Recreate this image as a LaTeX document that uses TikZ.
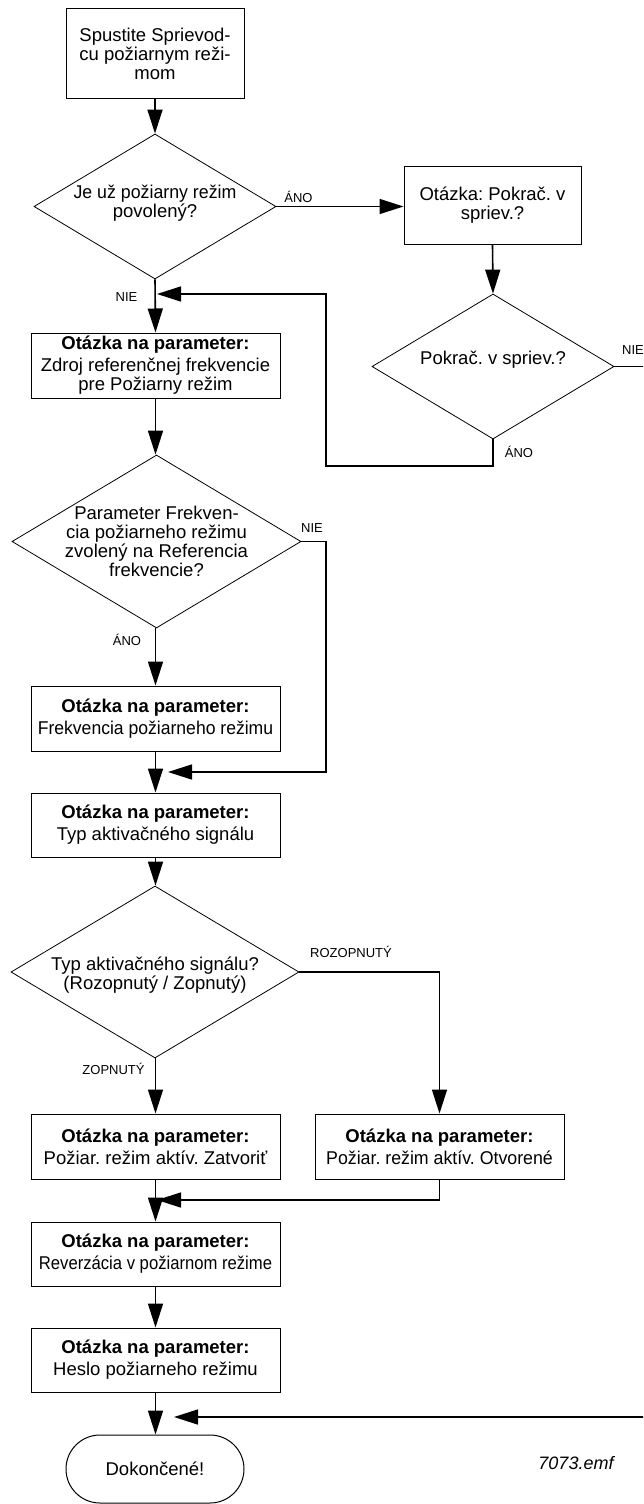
\documentclass[tikz,border=0pt]{standalone}
\usepackage{fontspec}
\usepackage{graphicx}
\setmainfont{Liberation Sans}
\usetikzlibrary{arrows.meta,shapes.geometric,calc}
\frenchspacing

\tikzset{
  base/.style={font=\fontsize{18.5}{19}\selectfont, align=center},
  proc/.style={base, draw, line width=1pt, inner sep=0pt,
    minimum width=249pt, minimum height=65pt},
  decision/.style={draw, line width=0.8pt, shape=diamond, inner sep=0pt,
    minimum width=242pt, minimum height=145pt},
  dtext/.style={base},
  term/.style={base, draw, line width=1pt, rounded corners=34pt,
    minimum width=178pt, minimum height=68pt, inner sep=0pt},
  lbl/.style={font=\fontsize{13}{15}\selectfont, inner sep=0pt},
  flow/.style={line width=1.6pt, -{Triangle[length=24pt,width=15pt]}},
}
\newcommand{\qhead}{\textbf{Otázka na parameter:}\\[3pt]}
% squeeze a line horizontally so it fits its box
\newcommand{\narrow}[2]{\scalebox{#1}[1]{#2}}

\begin{document}
\frenchspacing
\begin{tikzpicture}[x=1pt,y=-1pt]
\useasboundingbox (0,0) rectangle (643,1504);
\clip (0,0) rectangle (643,1504);

% main column
\node[base, draw, line width=1pt, minimum width=178pt, minimum height=89pt, inner sep=0pt]
  (start) at (155,53.5) {Spustite Sprievod-\\cu požiarnym reži-\\mom};
\node[decision] (d1) at (155,206.5) {};
\node[dtext] (d1t) at (155,203) {\narrow{0.96}{Je už požiarny režim}\\povolený?};

\node[base, draw, line width=1pt, minimum width=177pt, minimum height=78pt, inner sep=0pt]
  (ask) at (492.5,205) {Otázka: Pokrač. v\\spriev.?};
\node[decision] (d2) at (493,366.5) {};
\node[dtext] (d2t) at (493,360) {Pokrač. v spriev.?};

\node[proc] (src) at (155.5,365.5) {\qhead Zdroj referenčnej frekvencie\\pre Požiarny režim};
\node[decision, minimum width=289pt, minimum height=173pt] (d3) at (156.5,541.5) {};
\node[dtext] (d3t) at (156.5,541.5) {Parameter Frekven-\\cia požiarneho režimu\\zvolený na Referencia\\frekvencie?};

\node[proc] (freq) at (155.5,718.5) {\qhead \narrow{0.95}{Frekvencia požiarneho režimu}};
\node[proc, minimum height=64pt] (sig) at (155.5,825) {\qhead Typ aktivačného signálu};

\node[decision, minimum width=288pt, minimum height=172pt] (d4) at (155,972) {};
\node[dtext] (d4t) at (155,975) {Typ aktivačného signálu?\\(Rozopnutý / Zopnutý)};

\node[proc] (cls) at (155.5,1146.5) {\qhead Požiar. režim aktív. Zatvoriť};
\node[proc] (opn) at (439.5,1146.5) {\qhead \narrow{0.96}{Požiar. režim aktív. Otvorené}};
\node[proc, minimum height=64pt] (rev) at (155.5,1254) {\qhead \narrow{0.9}{Reverzácia v požiarnom režime}};
\node[proc, minimum height=64pt] (pwd) at (155.5,1360) {\qhead Heslo požiarneho režimu};
\node[term] (done) at (155,1469) {Dokončené!};

\node[base, font=\fontsize{18}{19}\selectfont\itshape] (fig) at (576,1463) {7073.emf};

% merge points on the main column
\coordinate (m1) at (157,294);
\coordinate (m2) at (168,772);
\coordinate (m3) at (157,1200);
\coordinate (m4) at (174,1417);
\coordinate (loop) at (326,466);
\coordinate (bend3) at (326,541.5);

% connectors
\draw[flow] (start.south) -- (d1.north);
\draw[flow] (d1.east) -- (d1.east -| ask.west);
\draw[flow] (ask.south) -- (d2.north);
\draw[flow] (d1.south) -- (src.north);
\draw[flow] (d2.south) |- (loop) |- (m1);
\draw[flow] (d2.east) -- ++(60,0) |- (m4);
\draw[flow] (src.south) -- (d3.north -| src.south);
\draw[flow] (d3.south -| freq.north) -- (freq.north);
\draw[flow] (d3.east) -- (bend3) |- (m2);
\draw[flow] (freq.south) -- (sig.north);
\draw[flow] (sig.south) -- (sig.south |- d4.north);
\draw[flow] (d4.south -| cls.north) -- (cls.north);
\draw[flow] (d4.east) -| (opn.north);
\draw[flow] (opn.south) |- (m3);
\draw[flow] (cls.south) -- (rev.north);
\draw[flow] (rev.south) -- (pwd.north);
\draw[flow] (pwd.south) -- (pwd.south |- done.north);

% branch labels
\node[lbl] (l1) at (298.5,197) {ÁNO};
\node[lbl] (l2) at (126.5,297) {NIE};
\node[lbl, anchor=west] (l3) at (622,350) {NIE};
\node[lbl] (l4) at (519,452) {ÁNO};
\node[lbl] (l5) at (312,528) {NIE};
\node[lbl] (l6) at (127,640) {ÁNO};
\node[lbl] (l7) at (351,952) {ROZOPNUTÝ};
\node[lbl] (l8) at (113.5,1069) {ZOPNUTÝ};
\end{tikzpicture}
\end{document}
